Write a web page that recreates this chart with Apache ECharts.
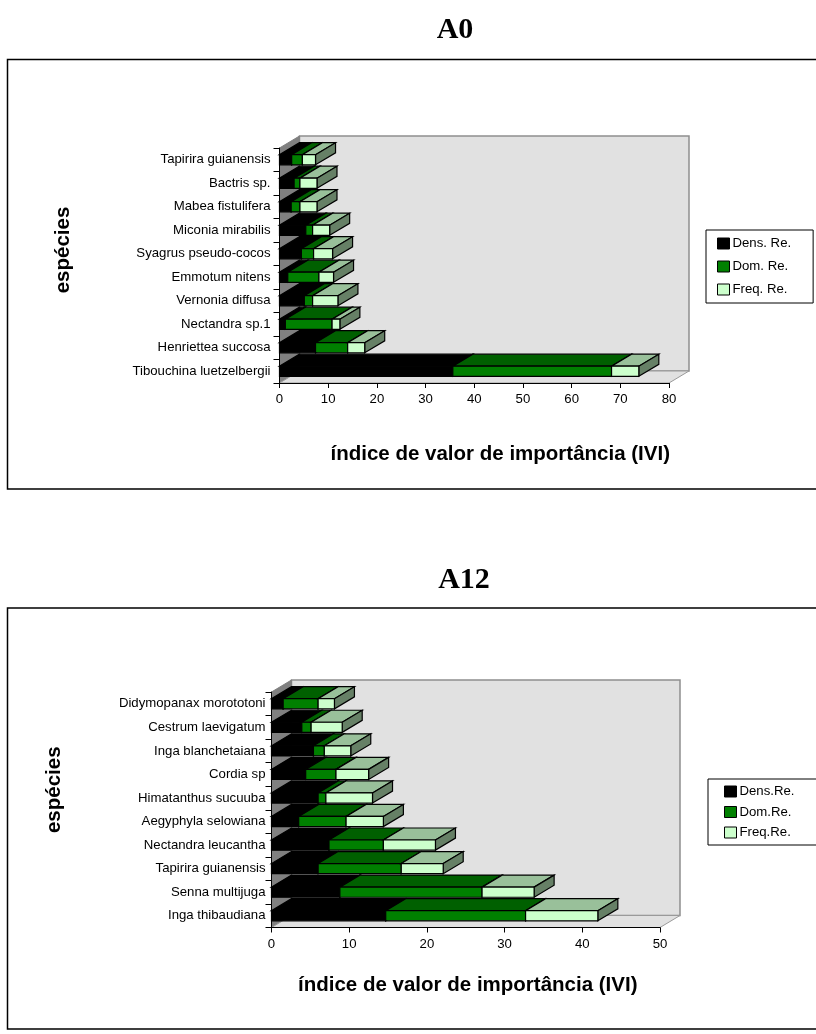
<!DOCTYPE html>
<html><head><meta charset="utf-8">
<style>html,body{margin:0;padding:0;background:#fff}#c{width:816px;height:1034px}</style>
<script src="https://cdn.jsdelivr.net/npm/echarts@6/dist/echarts.min.js"></script>
</head><body><div id="c"></div>
<script>
var speciesA0 = ['Tibouchina luetzelbergii','Henriettea succosa','Nectandra sp.1','Vernonia diffusa','Emmotum nitens','Syagrus pseudo-cocos','Miconia mirabilis','Mabea fistulifera','Bactris sp.','Tapirira guianensis'];
var densA0 = [35.6,7.4,1.2,5.1,1.7,4.5,5.4,2.4,3.0,2.5];
var domA0  = [32.6,6.6,9.6,1.7,6.4,2.5,1.4,1.8,1.2,2.2];
var freqA0 = [5.6,3.5,1.6,5.2,3.0,3.9,3.5,3.5,3.5,2.7];
var speciesA12 = ['Inga thibaudiana','Senna multijuga','Tapirira guianensis','Nectandra leucantha','Aegyphyla selowiana','Himatanthus sucuuba','Cordia sp','Inga blanchetaiana','Cestrum laevigatum','Didymopanax morototoni'];
var densA12 = [14.7,8.8,6.0,7.4,3.5,6.0,4.4,5.4,3.9,1.5];
var domA12  = [18.0,18.3,10.7,7.0,6.1,1.0,3.9,1.4,1.2,4.5];
var freqA12 = [9.3,6.7,5.4,6.7,4.8,6.0,4.2,3.4,4.0,2.1];
var namesA0 = ['Dens. Re.','Dom. Re.','Freq. Re.'];
var namesA12 = ['Dens.Re.','Dom.Re.','Freq.Re.'];
var ticksA0 = {max:80, interval:10};
var ticksA12 = {max:50, interval:10};

var FRONT=['#000000','#008000','#CCFFCC'], TOP=['#000000','#006000','#99C09A'], SIDE=['#000000','#004000','#668066'];
var DX=20, DY=-12, FONT='"Liberation Sans", Arial, sans-serif', LABEL=13.2;

function poly(pts,fill,stroke,lw){return {type:'polygon',shape:{points:pts},style:{fill:fill,stroke:stroke,lineWidth:lw}};}

function barItem(k){return function(params,api){
  var a=api.coord([api.value(0),api.value(2)]), b=api.coord([api.value(1),api.value(2)]);
  var h=api.size([0,1])[1]*0.43;
  var t=a[1]-h/2, d=a[1]+h/2, x0=a[0], x1=b[0];
  return {type:'group',children:[
    poly([[x0,t],[x1,t],[x1+DX,t+DY],[x0+DX,t+DY]],TOP[k],'#000',1.2),
    poly([[x1,t],[x1+DX,t+DY],[x1+DX,d+DY],[x1,d]],SIDE[k],'#000',1.2),
    poly([[x0,t],[x1,t],[x1,d],[x0,d]],FRONT[k],'#000',1.2)
  ]};
};}

function wallItem(max,n){return function(params,api){
  var band=api.size([0,1])[1];
  var l=api.coord([0,0]), r=api.coord([max,0]), tp=api.coord([0,n-1]);
  var x0=l[0],y0=l[1]+band/2,x1=r[0],y1=tp[1]-band/2;
  return {type:'group',children:[
    poly([[x0+DX,y1+DY],[x1+DX,y1+DY],[x1+DX,y0+DY],[x0+DX,y0+DY]],'#E1E1E1','#8E8E8E',1.5),
    poly([[x0,y1],[x0+DX,y1+DY],[x0+DX,y0+DY],[x0,y0]],'#808080','#808080',1),
    poly([[x0,y0],[x0+DX,y0+DY],[x1+DX,y0+DY],[x1,y0]],'#E1E1E1','#9A9A9A',1)
  ]};
};}

function build(gridIdx,cats,dens,dom,freq,names,t,grid,legendPos){
  var out={series:[]};
  out.grid={left:grid.l,top:grid.t,width:grid.w,height:grid.h};
  out.xAxis={gridIndex:gridIdx,type:'value',min:0,max:t.max,interval:t.interval,z:5,
    name:'índice de valor de importância (IVI)',nameLocation:'middle',nameGap:grid.xGap,
    nameTextStyle:{fontFamily:FONT,fontWeight:'bold',fontSize:grid.nameSize,color:'#000',padding:[0,0,0,grid.xPad]},
    axisLine:{show:true,onZero:false,lineStyle:{color:'#000',width:1}},
    axisTick:{show:true,length:5,inside:false,lineStyle:{color:'#000'}},
    splitLine:{show:false},
    axisLabel:{fontFamily:FONT,fontSize:LABEL,color:'#000',margin:10}};
  out.yAxis={gridIndex:gridIdx,type:'category',data:cats,z:5,
    name:'espécies',nameLocation:'middle',nameGap:grid.yGap,
    nameTextStyle:{fontFamily:FONT,fontWeight:'bold',fontSize:grid.nameSize,color:'#000',padding:[0,0,0,grid.yPad]},
    axisLine:{show:true,lineStyle:{color:'#000',width:1}},
    axisTick:{show:true,length:6,alignWithLabel:false,lineStyle:{color:'#000'}},
    splitLine:{show:false},
    axisLabel:{fontFamily:FONT,fontSize:LABEL,color:'#000',margin:grid.labelMargin,interval:0}};
  out.series.push({type:'custom',name:'wall'+gridIdx,xAxisIndex:gridIdx,yAxisIndex:gridIdx,coordinateSystem:'cartesian2d',
    silent:true,z:0,clip:false,data:[[0,0,0]],renderItem:wallItem(t.max,cats.length),encode:{x:0,y:2}});
  [dens,dom,freq].forEach(function(vals,k){
    var rows=cats.map(function(c,i){
      var s=0; for(var j=0;j<k;j++) s+=[dens,dom,freq][j][i];
      return [s,s+vals[i],i];
    });
    out.series.push({type:'custom',name:names[k],xAxisIndex:gridIdx,yAxisIndex:gridIdx,coordinateSystem:'cartesian2d',
      silent:true,z:2+k,clip:false,data:rows,renderItem:barItem(k),encode:{x:[0,1],y:2},
      itemStyle:{color:FRONT[k],borderColor:'#000',borderWidth:1}});
  });
  out.legend={show:true,orient:'vertical',left:legendPos.l,top:legendPos.t,
    data:names.map(function(n){return {name:n,icon:'rect'};}),
    itemWidth:12,itemHeight:11,itemGap:legendPos.gap,padding:legendPos.pad,selectedMode:false,
    borderColor:'#000',borderWidth:1,backgroundColor:'#fff',
    textStyle:{fontFamily:FONT,fontSize:LABEL,color:'#000',padding:[0,0,0,-2]},
    itemStyle:{borderColor:'#000',borderWidth:1}};
  return out;
}

var a=build(0,speciesA0,densA0,domA0,freqA0,namesA0,ticksA0,
  {l:279.5,t:148,w:389.5,h:235,xGap:61,yGap:206,xPad:52,yPad:31,nameSize:20.5,labelMargin:9},
  {l:706,t:230,gap:10,pad:[7,22,7,11]});
var b=build(1,speciesA12,densA12,domA12,freqA12,namesA12,ticksA12,
  {l:271.5,t:692,w:388.5,h:235.5,xGap:47,yGap:207,xPad:4,yPad:40,nameSize:20.5,labelMargin:6},
  {l:708,t:779,gap:7.5,pad:[6,60,6,16]});

var option={animation:false,backgroundColor:'#fff',
  title:[
    {text:'A0',left:450,top:10,textAlign:'center',textStyle:{fontFamily:'"Liberation Serif", "Times New Roman", serif',fontWeight:'bold',fontSize:30,color:'#000'}},
    {text:'A12',left:459,top:560,textAlign:'center',textStyle:{fontFamily:'"Liberation Serif", "Times New Roman", serif',fontWeight:'bold',fontSize:30,color:'#000'}}
  ],
  graphic:[
    {type:'polyline',silent:true,z:-1,shape:{points:[[816,59.5],[7.5,59.5],[7.5,489],[816,489]]},style:{fill:null,stroke:'#000',lineWidth:1.5}},
    {type:'polyline',silent:true,z:-1,shape:{points:[[816,608],[7.5,608],[7.5,1029],[816,1029]]},style:{fill:null,stroke:'#000',lineWidth:1.5}}
  ],
  grid:[a.grid,b.grid],xAxis:[a.xAxis,b.xAxis],yAxis:[a.yAxis,b.yAxis],
  legend:[a.legend,b.legend],
  series:a.series.concat(b.series)};
var chart=echarts.init(document.getElementById('c'),null,{renderer:'canvas'});
chart.setOption(option);
</script></body></html>
